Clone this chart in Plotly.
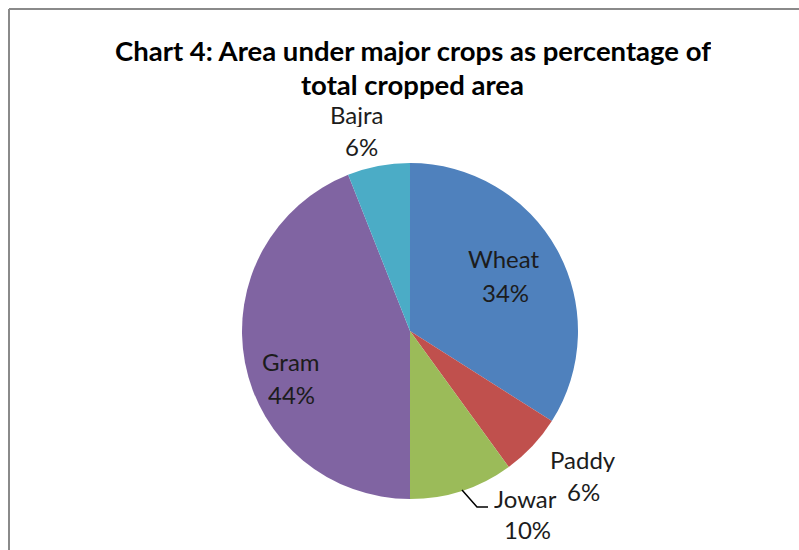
import plotly.graph_objects as go

# Share of total cropped area by crop (percent)
crops = ["Wheat", "Paddy", "Jowar", "Gram", "Bajra"]
shares = [34, 6, 10, 44, 6]
colors = ["#4F81BD", "#C0504D", "#9BBB59", "#8064A2", "#4BACC6"]

title_lines = ["Chart 4: Area under major crops as percentage of", "total cropped area"]

W, H = 799, 550
FONT = "Lato"
TXT = "#1c1c1c"


def px(x, y):
    return x / W, 1 - y / H


# pie placement (pixels): centre and radius
cx, cy, r = 410, 331, 168
dx0, dy0 = px(cx - r, cy + r)
dx1, dy1 = px(cx + r, cy - r)

fig = go.Figure(
    go.Pie(
        labels=crops,
        values=shares,
        marker=dict(colors=colors, line=dict(width=0)),
        sort=False,
        direction="clockwise",
        rotation=0,
        textinfo="none",
        hoverinfo="label+percent",
        showlegend=False,
        domain=dict(x=[dx0, dx1], y=[dy0, dy1]),
    )
)

annotations = []

# title
for text, (tx, ty) in zip(title_lines, [(413, 50), (412, 84)]):
    x, y = px(tx, ty)
    annotations.append(dict(
        x=x, y=y, xref="paper", yref="paper", text=f"<b>{text}</b>",
        showarrow=False, xanchor="center", yanchor="middle",
        height=30, borderpad=0,
        font=dict(family=FONT, size=27.5, color="#000000"),
    ))

# data label placement (name line, value line) in pixels
label_pos = {
    "Wheat": ((504, 258), (505, 292)),
    "Paddy": ((583, 459), (583, 491)),
    "Jowar": ((525, 498), (527, 529)),
    "Gram": ((291, 361), (291, 394)),
    "Bajra": ((357, 114), (361, 146)),
}
total = sum(shares)
for crop, val in zip(crops, shares):
    (nx, ny), (vx, vy) = label_pos[crop]
    pct = f"{round(100 * val / total)}%"
    for text, (lx, ly) in ((crop, (nx, ny)), (pct, (vx, vy))):
        x, y = px(lx, ly)
        annotations.append(dict(
            x=x, y=y, xref="paper", yref="paper", text=text,
            showarrow=False, xanchor="center", yanchor="middle",
            height=26, borderpad=0,
            font=dict(family=FONT, size=24, color=TXT),
        ))

# leader line for the Jowar label
lx0, ly0 = px(462, 490)
lx1, ly1 = px(477, 507)
lx2, ly2 = px(488, 507)
shapes = [
    dict(type="path", xref="paper", yref="paper",
         path=f"M {lx0},{ly0} L {lx1},{ly1} L {lx2},{ly2}",
         line=dict(color="#000000", width=1.5)),
    # chart frame (top and left edges)
    dict(type="line", xref="paper", yref="paper",
         x0=px(9, 9)[0], y0=px(9, 9)[1], x1=1, y1=px(9, 9)[1],
         line=dict(color="#8a8a8a", width=2)),
    dict(type="line", xref="paper", yref="paper",
         x0=px(9, 9)[0], y0=px(9, 9)[1], x1=px(9, 9)[0], y1=0,
         line=dict(color="#8a8a8a", width=2)),
]

fig.update_layout(
    width=W, height=H,
    margin=dict(l=0, r=0, t=0, b=0),
    paper_bgcolor="white",
    plot_bgcolor="white",
    annotations=annotations,
    shapes=shapes,
    font=dict(family=FONT),
)

fig.write_html("out.html")
